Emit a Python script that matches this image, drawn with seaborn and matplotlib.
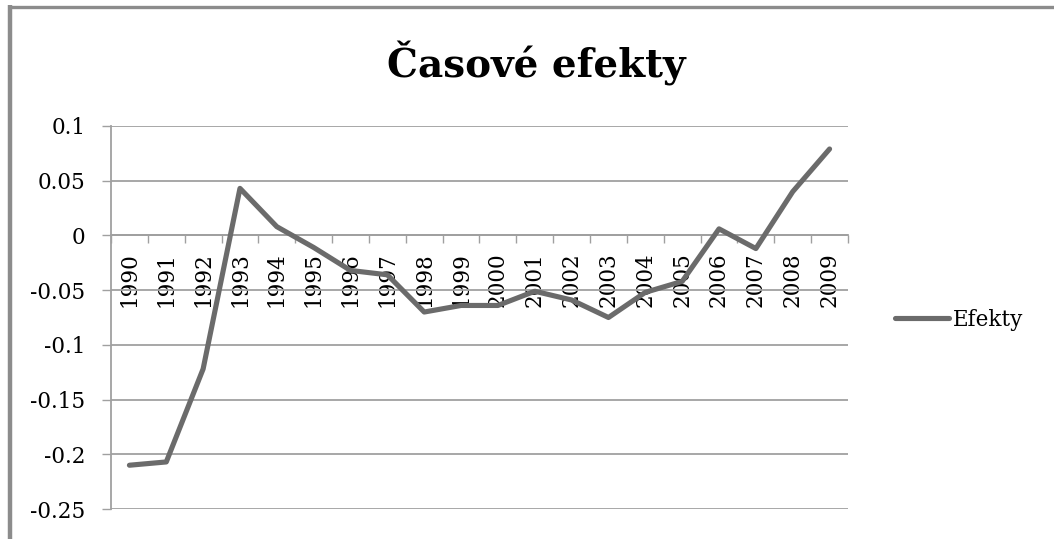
import matplotlib
matplotlib.use("Agg")
import matplotlib.pyplot as plt
from matplotlib.lines import Line2D
from matplotlib.ticker import FixedLocator, FixedFormatter
import seaborn as sns
import pandas as pd

years = list(range(1990, 2010))
efekty = [-0.210, -0.207, -0.122, 0.043, 0.008, -0.011, -0.032, -0.036, -0.070, -0.064,
          -0.064, -0.051, -0.059, -0.075, -0.052, -0.042, 0.006, -0.012, 0.040, 0.079]
y_ticks = [0.1, 0.05, 0, -0.05, -0.1, -0.15, -0.2, -0.25]
y_labels = ["0.1", "0.05", "0", "-0.05", "-0.1", "-0.15", "-0.2", "-0.25"]

df = pd.DataFrame({"rok": years, "Efekty": efekty})

sns.set_style("white")
plt.rcParams["font.family"] = ["DejaVu Serif", "Liberation Serif"]
plt.rcParams["text.color"] = "black"

fig = plt.figure(figsize=(10.54, 5.39), dpi=100)
ax = fig.add_axes([111/1054, 30/539, 737/1054, 383/539])

grid_c = "#a0a0a0"
line_c = "#6b6b6b"
fs = 15.5

sns.lineplot(data=df, x="rok", y="Efekty", ax=ax, color=line_c, linewidth=3.7,
             solid_capstyle="round", solid_joinstyle="round", label="Efekty", zorder=3)

ax.set_xlim(1989.5, 2009.5)
ax.set_ylim(-0.25, 0.1)
ax.set_xlabel("")
ax.set_ylabel("")

# horizontal gridlines
ax.set_yticks(y_ticks)
ax.set_yticklabels(y_labels)
ax.yaxis.grid(True, color=grid_c, linewidth=1.3)
ax.xaxis.grid(False)
ax.tick_params(axis="y", length=6.5, width=1, color=grid_c, direction="out",
               labelsize=fs, pad=12, left=True, labelcolor="black")

# category axis crossing at zero
ax.spines["bottom"].set_position(("data", 0))
ax.spines["bottom"].set_color(grid_c)
ax.spines["bottom"].set_linewidth(1.3)
ax.spines["left"].set_color(grid_c)
ax.spines["left"].set_linewidth(1.3)
ax.spines["top"].set_visible(False)
ax.spines["right"].set_visible(False)

ax.xaxis.set_major_locator(FixedLocator(years))
ax.xaxis.set_major_formatter(FixedFormatter([str(y) for y in years]))
ax.xaxis.set_minor_locator(FixedLocator([y + 0.5 for y in [1989] + years]))
ax.tick_params(axis="x", which="major", length=0, labelsize=fs, pad=12,
               labelrotation=90, bottom=True, labelcolor="black")
ax.tick_params(axis="x", which="minor", length=6, width=1, color=grid_c,
               direction="out", bottom=True)

leg = ax.legend(loc="center left", bbox_to_anchor=(895/1054, (539-320)/539),
                bbox_transform=fig.transFigure, frameon=False, fontsize=fs,
                handlelength=2.5, handletextpad=0.2, borderpad=0, borderaxespad=0)
for t in leg.get_texts():
    t.set_color("black")

fig.text(536/1054, (539-78)/539, "Časové efekty", ha="center", va="baseline",
         fontsize=28, fontweight="bold", color="black")

# chart frame (top and left edges visible)
frame_c = "#8c8c8c"
fig.add_artist(Line2D([9.5/1054, 9.5/1054], [0, (539-5)/539], color=frame_c,
                      linewidth=3.2, transform=fig.transFigure, solid_capstyle="butt"))
fig.add_artist(Line2D([8/1054, 1], [(539-6.5)/539, (539-6.5)/539], color=frame_c,
                      linewidth=2.4, transform=fig.transFigure, solid_capstyle="butt"))

fig.savefig("out.png", dpi=100)
